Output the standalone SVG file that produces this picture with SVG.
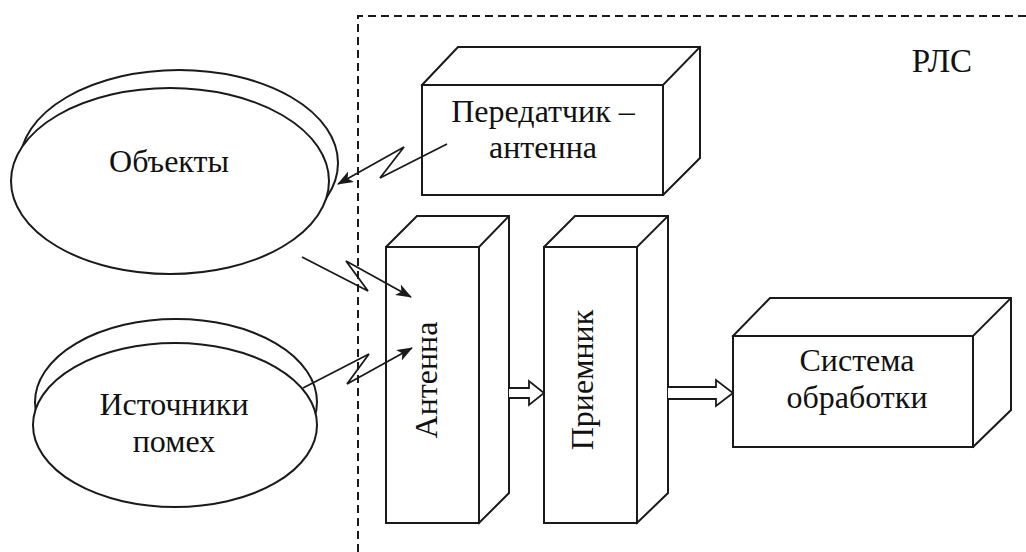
<svg xmlns="http://www.w3.org/2000/svg" width="1026" height="552" viewBox="0 0 1026 552">
<style>
.s{fill:#fff;stroke:#1a1a1a;stroke-width:2;stroke-linejoin:miter}
.t{font-family:"Liberation Serif","Times New Roman",serif;font-size:32px;fill:#111;text-anchor:middle}
.d{fill:none;stroke:#1a1a1a;stroke-width:2;stroke-dasharray:8 5}
.l{fill:none;stroke:#1a1a1a;stroke-width:1.8}
.h{fill:#fff;stroke:#1a1a1a;stroke-width:1.8}
</style>
<defs>
<marker id="ah" viewBox="0 0 16 12" refX="15" refY="6" markerWidth="16" markerHeight="12" markerUnits="userSpaceOnUse" orient="auto">
<path d="M0,0 L16,6 L0,12 L4,6 Z" fill="#1a1a1a"/>
</marker>
</defs>
<rect width="1026" height="552" fill="#fff"/>
<g id="frame">
<path class="d" d="M358,552 L358,16 L1026,16"/>
<text class="t" x="942" y="72" style="font-size:33px">РЛС</text>
</g>
<g id="objects">
<ellipse class="s" cx="179" cy="163" rx="159" ry="93"/>
<ellipse class="s" cx="170" cy="181" rx="159" ry="93"/>
<text class="t" x="169" y="172">Объекты</text>
</g>
<g id="interference">
<ellipse class="s" cx="176" cy="402" rx="141" ry="83"/>
<ellipse class="s" cx="175" cy="425" rx="142" ry="82"/>
<text class="t" x="174" y="415">Источники</text>
<text class="t" x="174" y="452">помех</text>
</g>
<g id="transmitter">
<path class="s" d="M422,85 L458,47 L700,47 L700,158 L663,195 Z"/>
<path class="l" d="M663,85 L700,47"/>
<rect class="s" x="422" y="85" width="241" height="110"/>
<text class="t" x="543" y="122">Передатчик –</text>
<text class="t" x="543" y="158">антенна</text>
</g>
<g id="antenna">
<path class="s" d="M386,247 L417,216 L509,216 L509,493 L479,523 Z"/>
<path class="l" d="M479,247 L509,216"/>
<rect class="s" x="386" y="247" width="93" height="276"/>
<text class="t" transform="translate(437,380) rotate(-90)">Антенна</text>
</g>
<g id="receiver">
<path class="s" d="M544,247 L575,216 L668,216 L668,493 L637,523 Z"/>
<path class="l" d="M637,247 L668,216"/>
<rect class="s" x="544" y="247" width="93" height="276"/>
<text class="t" transform="translate(593,380) rotate(-90)">Приемник</text>
</g>
<g id="processing">
<path class="s" d="M733,336 L770,298 L1011,298 L1011,410 L973,447 Z"/>
<path class="l" d="M973,336 L1011,298"/>
<rect class="s" x="733" y="336" width="240" height="111"/>
<text class="t" x="857" y="371">Система</text>
<text class="t" x="857" y="408">обработки</text>
</g>
<g id="connectors">
<path class="l" d="M447,144 L380,178 L404,147 L338,184" marker-end="url(#ah)"/>
<path class="l" d="M302,257 L368,291 L346,261 L411,297" marker-end="url(#ah)"/>
<path class="l" d="M303,388 L369,354 L347,384 L412,348" marker-end="url(#ah)"/>
<path class="h" d="M509,388 L529,388 L529,381 L544,393 L529,405 L529,398 L509,398"/>
<path class="h" d="M668,387 L716,387 L716,380 L733,393 L716,406 L716,399 L668,399"/>
</g>
</svg>
